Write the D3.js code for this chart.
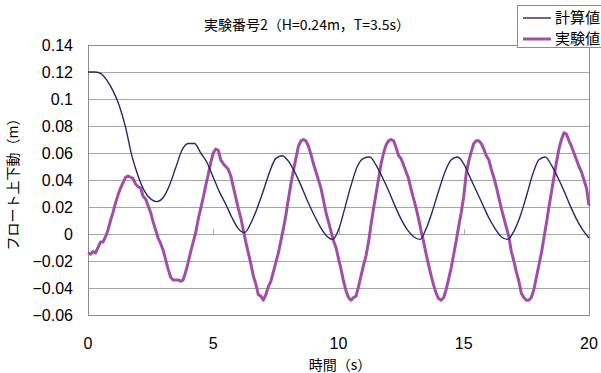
<!DOCTYPE html>
<html>
<head>
<meta charset="utf-8">
<script src="https://cdn.jsdelivr.net/npm/d3@7"></script>
<style>
  body { margin: 0; background: #fff; }
  svg { display: block; }
  text { font-family: "Liberation Sans", Arial, "Noto Sans CJK JP", sans-serif; fill: #000; }
  .jp { font-family: "Noto Sans CJK JP", sans-serif; }
</style>
</head>
<body>
<svg id="chart" width="601" height="373"></svg>
<script>
// calculated float heave, sampled every 0.25 s
const calcStep = 0.25
const calcValues = [
  0.120, 0.120, 0.119, 0.114, 0.106, 0.095, 0.079, 0.058, 0.043, 0.032,
  0.026, 0.024, 0.027, 0.036, 0.049, 0.062, 0.067, 0.067, 0.060, 0.053,
  0.042, 0.031, 0.022, 0.012, 0.004, 0.001, 0.008, 0.019, 0.032, 0.046,
  0.056, 0.058, 0.054, 0.046, 0.036, 0.025, 0.015, 0.006, -0.001, -0.004,
  0.003, 0.019, 0.036, 0.050, 0.056, 0.057, 0.051, 0.042, 0.032, 0.021,
  0.011, 0.003, -0.002, -0.004, 0.004, 0.017, 0.032, 0.046, 0.055, 0.057,
  0.052, 0.042, 0.032, 0.022, 0.012, 0.004, -0.002, -0.004, 0.002, 0.013,
  0.028, 0.044, 0.055, 0.057, 0.051, 0.042, 0.032, 0.021, 0.011, 0.003,
  -0.003
]

// measured float heave, sampled every 0.1 s
const expStep = 0.1
const expValues = [
  -0.014, -0.015, -0.013, -0.014, -0.010, -0.006, -0.006, -0.002, 0.003, 0.010,
  0.016, 0.023, 0.029, 0.034, 0.038, 0.042, 0.043, 0.042, 0.041, 0.037,
  0.035, 0.034, 0.028, 0.026, 0.021, 0.016, 0.009, 0.003, -0.003, -0.007,
  -0.012, -0.019, -0.026, -0.032, -0.034, -0.034, -0.034, -0.035, -0.034, -0.028,
  -0.021, -0.013, -0.006, 0.001, 0.011, 0.019, 0.027, 0.036, 0.044, 0.053,
  0.060, 0.063, 0.062, 0.055, 0.052, 0.050, 0.048, 0.043, 0.035, 0.027,
  0.019, 0.012, 0.003, -0.006, -0.014, -0.022, -0.031, -0.037, -0.045, -0.046,
  -0.049, -0.045, -0.039, -0.035, -0.028, -0.021, -0.014, -0.005, 0.004, 0.014,
  0.026, 0.037, 0.047, 0.056, 0.065, 0.069, 0.070, 0.069, 0.065, 0.059,
  0.052, 0.046, 0.040, 0.034, 0.025, 0.016, 0.009, 0.002, -0.005, -0.010,
  -0.018, -0.026, -0.035, -0.042, -0.047, -0.049, -0.047, -0.046, -0.039, -0.031,
  -0.023, -0.016, -0.006, 0.007, 0.019, 0.030, 0.041, 0.052, 0.060, 0.066,
  0.069, 0.070, 0.069, 0.064, 0.058, 0.056, 0.051, 0.046, 0.041, 0.033,
  0.026, 0.019, 0.011, 0.002, -0.006, -0.015, -0.023, -0.031, -0.038, -0.044,
  -0.048, -0.049, -0.047, -0.041, -0.033, -0.025, -0.015, -0.005, 0.006, 0.016,
  0.028, 0.045, 0.054, 0.061, 0.067, 0.069, 0.069, 0.067, 0.063, 0.058,
  0.055, 0.048, 0.042, 0.035, 0.027, 0.019, 0.012, 0.005, -0.002, -0.013,
  -0.020, -0.028, -0.035, -0.044, -0.047, -0.049, -0.049, -0.047, -0.041, -0.032,
  -0.023, -0.014, -0.003, 0.008, 0.020, 0.031, 0.042, 0.053, 0.063, 0.070,
  0.075, 0.074, 0.069, 0.065, 0.060, 0.055, 0.050, 0.046, 0.040, 0.034,
  0.021
]

const xTicks = [0, 5, 10, 15, 20]
const yTicks = [-0.06, -0.04, -0.02, 0, 0.02, 0.04, 0.06, 0.08, 0.1, 0.12, 0.14]
const seriesNames = ["計算値", "実験値"]
const seriesColors = ["#262671", "#a04fa6"]

const titleText = "実験番号2（H=0.24m，T=3.5s）"
const xTitle = "時間（s）"
const yTitle = "フロート上下動（m）"

const svg = d3.select("#chart")
const plot = { left: 88, right: 589, top: 45, bottom: 315 }

const x = d3.scaleLinear().domain([0, 20]).range([plot.left, plot.right])
const y = d3.scaleLinear().domain([-0.06, 0.14]).range([plot.bottom, plot.top])

// grid lines
svg.append("g")
  .selectAll("line")
  .data(yTicks)
  .enter()
  .append("line")
  .attr("x1", plot.left)
  .attr("x2", plot.right)
  .attr("y1", d => Math.round(y(d)) + 0.5)
  .attr("y2", d => Math.round(y(d)) + 0.5)
  .style("stroke", "#a6a6a6")

// plot border
svg.append("rect")
  .attr("x", plot.left + 0.5)
  .attr("y", plot.top + 0.5)
  .attr("width", plot.right - plot.left)
  .attr("height", plot.bottom - plot.top)
  .attr("fill", "none")
  .style("stroke", "#8c8c8c")

// small ticks on the zero line
svg.append("g")
  .selectAll("line")
  .data(xTicks.slice(1))
  .enter()
  .append("line")
  .attr("x1", d => Math.round(x(d)) + 0.5)
  .attr("x2", d => Math.round(x(d)) + 0.5)
  .attr("y1", y(0) - 5)
  .attr("y2", y(0))
  .style("stroke", "#b0b0b0")

// y tick labels
svg.append("g")
  .selectAll("text")
  .data(yTicks)
  .enter()
  .append("text")
  .attr("x", 73)
  .attr("y", d => y(d) + 6)
  .attr("text-anchor", "end")
  .style("font-size", "16px")
  .text(d => d3.format("")(d).replace("-", "−"))

// x tick labels
svg.append("g")
  .selectAll("text")
  .data(xTicks)
  .enter()
  .append("text")
  .attr("x", d => x(d))
  .attr("y", 349)
  .attr("text-anchor", "middle")
  .style("font-size", "16px")
  .text(d => d)

// lines
const calcData = calcValues.map((v, i) => [i * calcStep, v])
const expData = expValues.map((v, i) => [i * expStep, v])

const line = d3.line().x(d => x(d[0])).y(d => y(d[1]))

svg.append("path")
  .datum(expData)
  .attr("d", line.curve(d3.curveLinear))
  .attr("fill", "none")
  .style("stroke", seriesColors[1])
  .style("stroke-width", 3)
  .style("stroke-linejoin", "round")

svg.append("path")
  .datum(calcData)
  .attr("d", line.curve(d3.curveMonotoneX))
  .attr("fill", "none")
  .style("stroke", seriesColors[0])
  .style("stroke-width", 1.4)

// title
svg.append("text")
  .attr("class", "jp")
  .attr("x", 307)
  .attr("y", 30)
  .attr("text-anchor", "middle")
  .style("font-size", "14px")
  .text(titleText)

// axis titles
svg.append("text")
  .attr("class", "jp")
  .attr("x", 340)
  .attr("y", 370)
  .attr("text-anchor", "middle")
  .style("font-size", "14px")
  .text(xTitle)

svg.append("text")
  .attr("class", "jp")
  .attr("transform", "translate(18,181) rotate(-90)")
  .attr("text-anchor", "middle")
  .style("font-size", "14px")
  .text(yTitle)

// legend
const legend = svg.append("g")
legend.append("rect")
  .attr("x", 517.5)
  .attr("y", 5.5)
  .attr("width", 90)
  .attr("height", 42)
  .attr("fill", "#fff")
  .style("stroke", "#8c8c8c")

const items = legend.selectAll("g")
  .data(seriesNames)
  .enter()
  .append("g")
  .attr("transform", (d, i) => `translate(0, ${18 + i * 21})`)

items.append("line")
  .attr("x1", 523)
  .attr("x2", 551)
  .style("stroke", (d, i) => seriesColors[i])
  .style("stroke-width", (d, i) => i === 0 ? 1.4 : 3)

items.append("text")
  .attr("class", "jp")
  .attr("x", 555)
  .attr("y", 5)
  .style("font-size", "15px")
  .text(d => d)
</script>
</body>
</html>
